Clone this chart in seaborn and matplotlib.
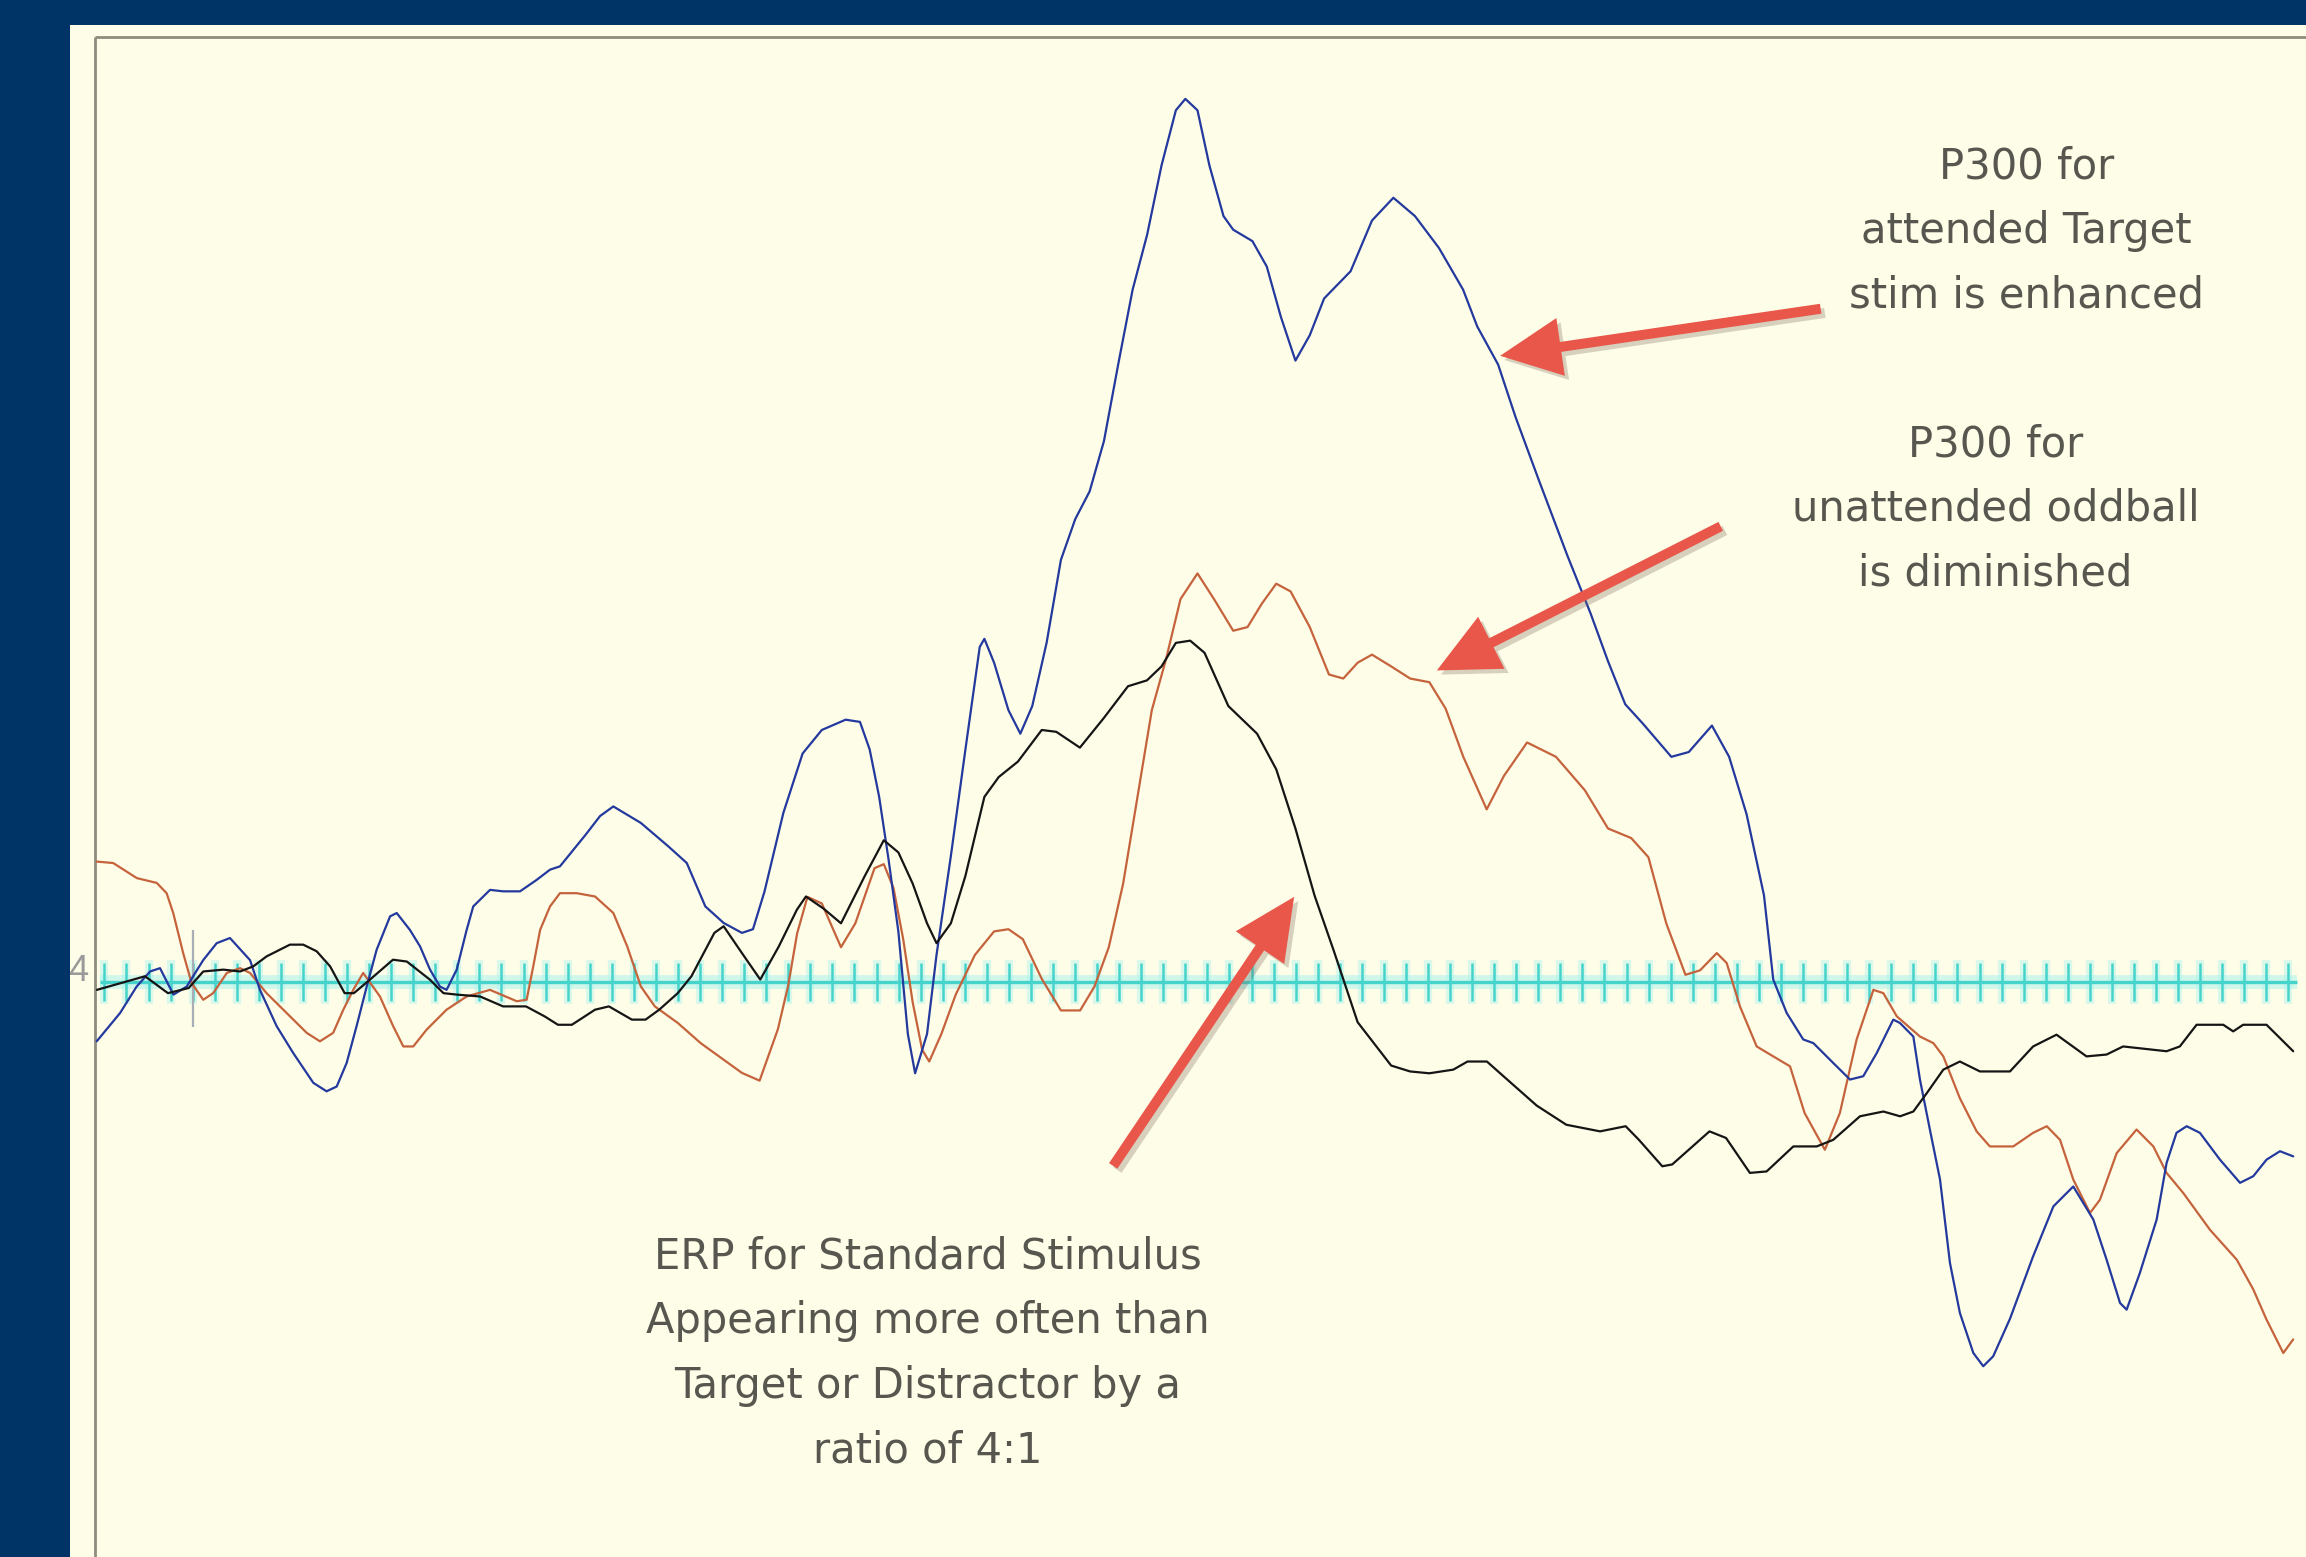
import numpy as np
import pandas as pd
import matplotlib
matplotlib.use("Agg")
import matplotlib.pyplot as plt
import seaborn as sns
from matplotlib import patheffects as pe

# ---------------- data (time in ms, amplitude in uV) -------------
standard_t = [-43.4, -21.6, -11.2, -1.8, 4.8, 13.9, 21.5, 27.5, 33.5, 44.1, 50.1, 56.2, 62.3, 68.9,
              73.1, 80.4, 90.8, 97.1, 107.5, 113.7, 119.8, 130.3, 140.7, 151.1, 159.5, 165.6, 171.9,
              182.4, 188.7, 199.1, 205.3, 211.5, 219.9, 226.1, 236.5, 240.7, 249.0, 257.3, 265.7,
              273.9, 278.0, 286.0, 293.9, 304.7, 313.3, 319.9, 326.4, 332.9, 337.2, 343.7, 350.3,
              358.9, 365.4, 374.1, 384.9, 391.5, 402.2, 413.1, 424.0, 432.6, 439.2, 445.7, 452.2,
              458.7, 469.5, 482.5, 491.2, 499.9, 508.6, 517.3, 528.1, 543.3, 551.9, 560.6, 571.5,
              577.9, 586.7, 592.7, 609.3, 622.7, 638.0, 649.6, 655.6, 666.2, 670.7, 687.6, 695.1,
              705.9, 713.5, 725.6, 736.2, 743.7, 755.8, 766.4, 774.0, 780.0, 786.1, 793.6, 801.1,
              810.2, 823.8, 834.3, 844.9, 858.5, 867.6, 875.1, 894.8, 900.8, 908.4, 920.5, 925.0,
              929.5, 940.1, 952.2]
standard_uv = [-0.21, 0.16, -0.30, -0.16, 0.29, 0.34, 0.29, 0.43, 0.70, 1.02, 1.02, 0.84, 0.43, -0.30,
               -0.30, 0.07, 0.61, 0.56, 0.07, -0.30, -0.34, -0.39, -0.66, -0.66, -0.93, -1.16, -1.16,
               -0.75, -0.66, -1.02, -1.02, -0.75, -0.30, 0.16, 1.34, 1.52, 0.79, 0.07, 0.97,
               1.97, 2.33, 2.00, 1.60, 2.89, 3.86, 3.53, 2.68, 1.60, 1.06, 1.60, 2.89,
               5.04, 5.58, 6.00, 6.86, 6.81, 6.38, 7.19, 8.05, 8.21, 8.59, 9.23, 9.29,
               8.96, 7.51, 6.76, 5.79, 4.18, 2.35, 0.85, -1.09, -2.27, -2.43, -2.48, -2.38,
               -2.16, -2.16, -2.48, -3.36, -3.88, -4.06, -3.92, -4.29, -5.01, -4.96, -4.06, -4.24,
               -5.19, -5.15, -4.47, -4.47, -4.29, -3.65, -3.52, -3.65, -3.52, -3.02, -2.38, -2.16,
               -2.43, -2.43, -1.75, -1.43, -2.02, -1.97, -1.75, -1.88, -1.75, -1.16, -1.16, -1.34,
               -1.16, -1.16, -1.88]

target_t = [-43.5, -32.9, -25.4, -19.3, -14.8, -8.7, -2.7, 4.8, 10.9, 16.9, 26.0, 30.5, 38.1, 45.6,
            54.7, 60.7, 65.3, 69.8, 74.3, 78.9, 83.4, 89.5, 92.5, 98.5, 103.1, 107.6, 112.1, 115.1,
            119.7, 124.2, 127.2, 134.8, 140.8, 148.4, 155.9, 162.0, 166.5, 178.0, 184.7, 190.7,
            203.2, 215.7, 224.0, 232.4, 240.7, 249.0, 254.0, 259.2, 267.8, 276.5, 285.2, 296.0,
            302.5, 306.9, 311.2, 315.5, 319.9, 324.2, 327.5, 332.9, 337.2, 343.7, 350.3, 356.8,
            358.9, 363.3, 369.8, 375.2, 380.6, 387.1, 393.6, 400.1, 406.6, 413.1, 419.7, 426.1,
            432.7, 439.2, 445.7, 450.0, 455.5, 460.9, 467.3, 471.7, 480.4, 486.9, 493.3, 499.9,
            506.4, 512.9, 524.9, 534.6, 544.3, 554.1, 565.0, 575.9, 582.3, 591.8, 599.7, 610.1,
            623.2, 633.7, 641.6, 649.4, 657.3, 670.3, 678.2, 688.7, 696.5, 704.4, 712.3, 716.5,
            722.6, 730.1, 734.7, 743.7, 751.3, 757.3, 763.4, 770.9, 773.9, 780.0, 783.0, 787.5,
            792.1, 796.6, 801.1, 807.2, 811.7, 816.2, 823.8, 834.3, 843.5, 852.5, 861.6, 867.6,
            873.7, 876.7, 882.7, 890.3, 894.8, 899.3, 903.9, 909.9, 919.0, 928.1, 934.1, 940.1,
            946.2, 952.2]
target_uv = [-1.61, -0.84, -0.12, 0.29, 0.38, -0.34, -0.12, 0.60, 1.06, 1.20, 0.60, -0.21, -1.20, -1.93,
             -2.74, -2.97, -2.84, -2.20, -1.20, -0.12, 0.88, 1.79, 1.88, 1.42, 0.97, 0.34, -0.12, -0.21,
             0.34, 1.42, 2.06, 2.51, 2.47, 2.47, 2.78, 3.06, 3.15, 4.00, 4.52, 4.78,
             4.33, 3.69, 3.24, 2.06, 1.61, 1.34, 1.44, 2.46, 4.61, 6.22, 6.86, 7.14,
             7.08, 6.33, 5.04, 3.32, 1.38, -1.41, -2.48, -1.41, 0.74, 3.43, 6.33, 9.12,
             9.34, 8.69, 7.40, 6.76, 7.51, 9.23, 11.49, 12.60, 13.35, 14.72, 16.85, 18.84,
             20.34, 22.22, 23.72, 24.03, 23.72, 22.22, 20.84, 20.47, 20.16, 19.47, 18.10, 16.91,
             17.60, 18.60, 19.34, 20.72, 21.34, 20.84, 19.97, 18.84, 17.84, 16.80, 15.37, 13.68,
             11.60, 10.03, 8.73, 7.56, 7.04, 6.13, 6.26, 6.98, 6.13, 4.57, 2.36, 0.07,
             -0.84, -1.56, -1.66, -2.20, -2.65, -2.56, -1.93, -1.02, -1.11, -1.48, -2.65, -4.01,
             -5.37, -7.64, -9.00, -10.09, -10.45, -10.18, -9.16, -7.46, -6.10, -5.56, -6.46, -7.55,
             -8.73, -8.91, -7.91, -6.46, -4.92, -4.10, -3.92, -4.10, -4.83, -5.46, -5.28, -4.83,
             -4.60, -4.74]

oddball_t = [-43.5, -36.0, -25.3, -16.3, -11.8, -8.8, -4.3, -0.5, 4.8, 9.3, 15.5, 21.5, 26.0, 33.5,
             42.6, 51.7, 57.7, 63.7, 68.3, 72.8, 77.3, 84.9, 90.9, 95.5, 100.0, 106.1, 115.1, 124.2,
             134.8, 146.9, 151.4, 154.4, 157.5, 162.0, 166.5, 174.1, 182.4, 190.7, 197.0, 203.2,
             209.5, 219.9, 230.3, 240.7, 249.0, 257.0, 265.3, 270.0, 274.0, 278.7, 285.2, 293.9,
             300.4, 309.1, 313.3, 317.7, 322.1, 326.4, 330.7, 333.9, 339.4, 345.9, 354.6, 363.3,
             369.8, 376.3, 384.9, 393.6, 402.3, 408.8, 415.3, 421.8, 428.3, 434.8, 441.3, 447.8,
             455.5, 463.0, 471.7, 478.2, 484.7, 491.2, 497.7, 506.4, 515.1, 521.6, 528.1, 534.6,
             543.3, 551.9, 560.6, 568.0, 576.0, 586.6, 594.4, 604.9, 618.0, 631.1, 641.6, 652.1,
             659.9, 668.0, 676.7, 683.3, 690.9, 695.4, 701.4, 709.0, 716.5, 724.1, 730.7, 739.9,
             746.7, 754.3, 761.9, 766.4, 772.5, 783.0, 789.1, 793.6, 801.1, 808.7, 814.7, 825.3,
             834.3, 840.5, 846.5, 852.5, 860.1, 864.6, 872.2, 881.2, 888.8, 894.8, 902.4, 914.5,
             926.6, 934.1, 940.1, 947.7, 952.2]
oddball_uv = [3.28, 3.24, 2.83, 2.70, 2.42, 1.88, 0.79, -0.02, -0.48, -0.30, 0.25, 0.38, 0.25, -0.30,
              -0.84, -1.38, -1.61, -1.38, -0.75, -0.21, 0.25, -0.39, -1.20, -1.75, -1.75, -1.29, -0.75, -0.39,
              -0.21, -0.52, -0.48, 0.43, 1.42, 2.06, 2.42, 2.42, 2.33, 1.88, 0.97, -0.12,
              -0.66, -1.11, -1.66, -2.11, -2.47, -2.68, -1.28, -0.08, 1.32, 2.32, 2.14, 0.95,
              1.60, 3.10, 3.21, 2.56, 1.17, -0.55, -1.84, -2.16, -1.41, -0.34, 0.74, 1.38,
              1.44, 1.17, 0.09, -0.77, -0.77, -0.12, 0.95, 2.68, 5.04, 7.40, 8.80, 10.42,
              11.12, 10.42, 9.56, 9.66, 10.30, 10.84, 10.63, 9.66, 8.37, 8.26, 8.69, 8.91,
              8.59, 8.26, 8.16, 7.44, 6.13, 4.70, 5.61, 6.52, 6.13, 5.22, 4.18, 3.92,
              3.40, 1.60, 0.20, 0.32, 0.79, 0.52, -0.66, -1.75, -2.02, -2.29, -3.56, -4.56,
              -3.56, -1.56, -0.21, -0.30, -0.93, -1.48, -1.66, -2.02, -3.16, -4.06, -4.47, -4.47,
              -4.10, -3.92, -4.29, -5.37, -6.28, -5.92, -4.65, -4.01, -4.47, -5.19, -5.74, -6.74,
              -7.55, -8.36, -9.18, -10.09, -9.72]

condition_names = ["Standard", "Target", "Oddball"]
condition_colors = {"Standard": "#151515", "Target": "#24399d", "Oddball": "#c5633c"}

time_axis_ticks = list(range(-40, 951, 10))
axis_label = "4"

annotation_texts = [
    "P300 for\nattended Target\nstim is enhanced",
    "P300 for\nunattended oddball\nis diminished",
    "ERP for Standard Stimulus\nAppearing more often than\nTarget or Distractor by a\nratio of 4:1",
]

# ---------------- build long table ----------------
frames = []
for name, t, v in [("Standard", standard_t, standard_uv),
                   ("Target", target_t, target_uv),
                   ("Oddball", oddball_t, oddball_uv)]:
    frames.append(pd.DataFrame({"time": t, "amplitude": v, "condition": name}))
df = pd.concat(frames, ignore_index=True)

# ---------------- figure ----------------
sns.set_style("white")
plt.rcParams["font.family"] = ["DejaVu Sans"]

W, H = 2306, 1557
fig = plt.figure(figsize=(W / 100, H / 100), dpi=100, facecolor="#003366")
ax = fig.add_axes([70 / W, 0, 1 - 70 / W, 1 - 25 / H])
ax.set_facecolor("#FEFDE8")
for s in ax.spines.values():
    s.set_visible(False)
ax.set_xticks([])
ax.set_yticks([])
ax.set_xlim(-55.6, 958)
ax.set_ylim(-15.64, 26.04)

# inner frame of the plot panel
bx = (95 - 70) / (W - 70)
by = 1 - (37 - 25) / (H - 25)
ax.plot([bx, bx], [0, by], color="#8d8d7e", lw=2.0, transform=ax.transAxes, zorder=1,
        solid_capstyle="butt")
ax.plot([bx, 1], [by, by], color="#8d8d7e", lw=2.0, transform=ax.transAxes, zorder=1,
        solid_capstyle="butt")

# cyan time axis with ticks and glow
t0, t1 = time_axis_ticks[0] - 2, time_axis_ticks[-1] + 4
ax.hlines(0, t0, t1, color="#a6f2ed", lw=10, alpha=0.5, zorder=2)
ax.vlines(time_axis_ticks, -0.6, 0.6, color="#a6f2ed", lw=6, alpha=0.4, zorder=2)
ax.hlines(0, t0, t1, color="#45d3cb", lw=2.4, zorder=3)
ax.vlines(time_axis_ticks, -0.52, 0.52, color="#45d3cb", lw=1.8, zorder=3)

# stimulus onset marker
ax.vlines(0, -1.22, 1.41, color="#a9adb6", lw=1.6, zorder=3)
ax.text(-47.5, 0.3, axis_label, ha="right", va="center", fontsize=26, color="#9a9a9a",
        family="Liberation Sans", clip_on=True, zorder=3)

# ERP curves
sns.lineplot(data=df, x="time", y="amplitude", hue="condition", hue_order=["Oddball", "Target", "Standard"],
             palette=condition_colors, estimator=None, sort=False, legend=False, lw=1.6, ax=ax, zorder=5)
ax.set_xlabel("")
ax.set_ylabel("")
ax.set_xlim(-55.6, 958)
ax.set_ylim(-15.64, 26.04)

# annotations
txt_kw = dict(ha="center", va="center", fontsize=30, color="#57574f", linespacing=1.68, zorder=6)
ax.text(831.3, 20.44, annotation_texts[0], **txt_kw)
ax.text(817.3, 12.88, annotation_texts[1], **txt_kw)
ax.text(333.3, -10.1, annotation_texts[2], **txt_kw)

arrow_color = "#e8574a"
shadow = [pe.SimplePatchShadow(offset=(3, -3), shadow_rgbFace="#7a6a5a", alpha=0.3), pe.Normal()]
for (tail, tip) in [((738.0, 18.32), (592.7, 17.04)),
                    ((692.7, 12.40), (564.0, 8.48)),
                    ((417.3, -5.00), (499.3, 2.32))]:
    ax.annotate("", xy=tip, xytext=tail,
                arrowprops=dict(arrowstyle="simple,head_length=2.2,head_width=2.1,tail_width=0.36",
                                mutation_scale=20, fc=arrow_color, ec="none",
                                shrinkA=0, shrinkB=0, path_effects=shadow),
                zorder=7)

fig.savefig("out.png", dpi=100, facecolor=fig.get_facecolor())
